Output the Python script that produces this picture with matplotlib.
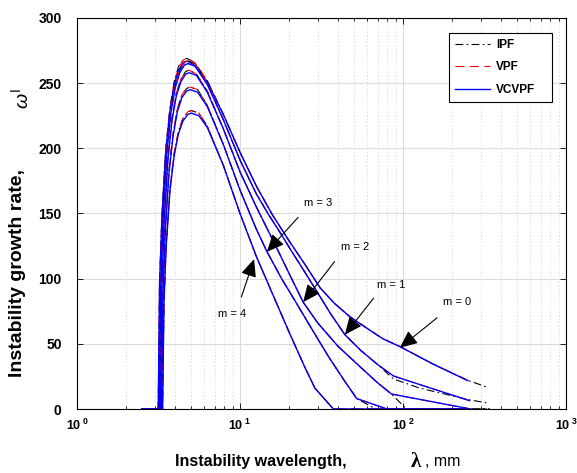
import matplotlib
matplotlib.use('Agg')
import matplotlib.pyplot as plt
import numpy as np
from matplotlib.ticker import NullFormatter

plt.rcParams['font.family'] = ['Liberation Sans', 'DejaVu Sans']
plt.rcParams['mathtext.fontset'] = 'custom'
plt.rcParams['mathtext.rm'] = 'Liberation Sans'
plt.rcParams['mathtext.bf'] = 'Liberation Sans:bold'
plt.rcParams['mathtext.it'] = 'Liberation Sans:italic'

nan = np.nan

# 波长 (mm) 和增长率, m = 0 ... 4, 三种模型 IPF / VPF / VCVPF
lam_m0 = [2.5, 3.15, 3.21, 3.32, 3.5, 3.71, 3.94, 4.2, 4.5, 4.72, 5.25, 6.3, 7.9, 10, 12.6, 15.8, 20, 25, 31, 38, 47, 60, 75, 96, 150, 250, 324]
ipf_m0 = [0, 0, 97, 149, 199, 230, 251, 263, 268, 269, 266, 252, 226, 197, 171, 149, 129, 111, 93, 81, 71, 62, 54, 47.8, 35, 22, 17]
vpf_m0 = [0, 0, 97, 149, 199, 230, 250, 262, 268, 269, 266, 252, 226, 197, 171, 149, 129, 111, 93, 81, 71, 62, 54, 47.8, 35, 21.7, nan]
vcvpf_m0 = [0, 0, 96, 147, 197, 228, 248, 260, 266, 267, 264, 251, 226, 197, 171, 149, 129, 111, 93, 81, 71, 62, 54, 47.8, 35, 21.7, nan]

lam_m1 = [2.5, 3.2, 3.265, 3.37, 3.556, 3.765, 4.0, 4.27, 4.57, 4.8, 5.3, 6.3, 7.9, 10, 12.6, 15, 17.5, 20.5, 25, 30, 36, 44, 55, 70, 87.5, 127, 256, 324]
ipf_m1 = [0, 0, 96, 148, 198, 229, 248, 260, 266, 267, 265, 250, 222, 191, 165, 149, 136, 122, 105, 89, 73, 57, 45, 34, 23, 16, 7, 4.8]
vpf_m1 = [0, 0, 96, 148, 198, 229, 248, 260, 266, 267, 265, 250, 222, 191, 165, 149, 136, 122, 105, 89, 73, 57, 45, 34, 25.3, 18.7, 6.4, nan]
vcvpf_m1 = [0, 0, 95, 146, 196, 227, 246, 258, 264, 265, 263, 249, 222, 191, 165, 149, 136, 122, 105, 89, 73, 57, 45, 34, 25.3, 18.7, 6.4, nan]

lam_m2 = [2.5, 3.25, 3.316, 3.421, 3.611, 3.824, 4.063, 4.333, 4.643, 4.875, 5.4, 6.3, 7.9, 10, 12.6, 15, 17.5, 20, 24.4, 30, 40, 55, 70, 85, 105, 260, 340]
ipf_m2 = [0, 0, 94, 144, 193, 223, 242, 253, 259, 260, 257, 244, 215, 182, 155, 136, 119, 104, 82, 66, 48, 32, 20, 11.5, 0, 0, 0]
vpf_m2 = [0, 0, 94, 144, 193, 223, 242, 253, 259, 260, 257, 244, 215, 182, 155, 136, 119, 104, 82, 66, 48, 32, 20, 11.5, 9.3, 0, nan]
vcvpf_m2 = [0, 0, 93, 142, 191, 221, 240, 251, 257, 258, 256, 243, 215, 182, 155, 136, 119, 104, 82, 66, 48, 32, 20, 11.5, 9.3, 0, nan]

lam_m3 = [2.5, 3.3, 3.367, 3.474, 3.667, 3.882, 4.125, 4.4, 4.714, 4.95, 5.5, 6.3, 7.9, 10, 12.6, 14.6, 18, 22, 28, 35, 43, 52, 68, 80, 260, 340]
ipf_m3 = [0, 0, 89, 137, 183, 211, 230, 241, 246, 247, 245, 233, 203, 168, 138, 121, 100, 82, 60, 40, 23, 8, 0, 0, 0, 0]
vpf_m3 = [0, 0, 89, 137, 183, 211, 230, 241, 246, 247, 245, 233, 203, 168, 138, 121, 100, 82, 60, 40, 23, 8, 3, 0, 0, nan]
vcvpf_m3 = [0, 0, 88, 135, 181, 209, 228, 239, 244, 245, 243, 232, 203, 168, 138, 121, 100, 82, 60, 40, 23, 8, 3, 0, 0, nan]

lam_m4 = [2.5, 3.35, 3.418, 3.526, 3.722, 3.941, 4.188, 4.467, 4.786, 5.025, 5.6, 6.3, 7.9, 10, 12.6, 16, 20, 25, 28.8, 37.4, 260, 340]
ipf_m4 = [0, 0, 83, 127, 170, 196, 213, 223, 228, 229, 227, 217, 187, 150, 117, 87, 59, 32, 16, 0, 0, 0]
vpf_m4 = [0, 0, 83, 127, 170, 196, 213, 223, 228, 229, 227, 217, 187, 150, 117, 87, 59, 32, 16, 0, 0, nan]
vcvpf_m4 = [0, 0, 82, 125, 168, 194, 211, 221, 226, 227, 225, 216, 187, 150, 117, 87, 59, 32, 16, 0, 0, nan]

# 箭头标注: (文字位置, 箭尾, 箭头)
mode_labels = ['m = 0', 'm = 1', 'm = 2', 'm = 3', 'm = 4']
label_pos = [(214, 82), (84, 95), (51, 124), (30, 158), (8.9, 73)]
arrow_tail = [(162, 70), (66, 85), (38, 113), (22.7, 147), (10.2, 86)]
arrow_tip = [(95.6, 47), (44, 57), (24.4, 82), (14.6, 120.5), (12.2, 115)]

modes = [(lam_m0, ipf_m0, vpf_m0, vcvpf_m0),
         (lam_m1, ipf_m1, vpf_m1, vcvpf_m1),
         (lam_m2, ipf_m2, vpf_m2, vcvpf_m2),
         (lam_m3, ipf_m3, vpf_m3, vcvpf_m3),
         (lam_m4, ipf_m4, vpf_m4, vcvpf_m4)]

fig = plt.figure(figsize=(5.77, 4.73), dpi=100)
ax = fig.add_axes([77/577, 64/473, 489/577, 391/473])

for i, (lam, wi, wv, wc) in enumerate(modes):
    ax.plot(lam, wi, color='k', lw=0.8, ls=(0, (7, 3, 1.5, 3)),
            label='IPF' if i == 0 else None)
    ax.plot(lam, wv, color='r', lw=0.8, ls=(0, (8, 5)),
            label='VPF' if i == 0 else None)
    ax.plot(lam, wc, color='b', lw=1.0,
            label='VCVPF' if i == 0 else None)

ax.set_xscale('log')
ax.set_xlim(1, 1000)
ax.set_ylim(0, 300)
ax.set_yticks([0, 50, 100, 150, 200, 250, 300])
ax.set_xticks([1, 10, 100, 1000])
ax.set_xticklabels([r'$\mathbf{10^{\ 0}}$', r'$\mathbf{10^{\ 1}}$',
                    r'$\mathbf{10^{\ 2}}$', r'$\mathbf{10^{\ 3}}$'])
ax.xaxis.set_minor_formatter(NullFormatter())

ax.set_axisbelow(True)
ax.grid(which='major', axis='both', color='#dcdcdc', lw=0.8, ls='-')
ax.grid(which='minor', axis='x', color='#c4c4c4', lw=0.6, ls=(0, (1, 3)))

ax.tick_params(which='both', direction='in', top=True, right=True, width=0.6)
ax.tick_params(which='major', length=4)
ax.tick_params(which='minor', length=2.5)
ax.tick_params(axis='y', labelsize=10, pad=11)
ax.tick_params(axis='x', labelsize=9, pad=6)
for t in ax.get_yticklabels():
    t.set_fontweight('bold')
for s in ax.spines.values():
    s.set_linewidth(0.8)

# 标注箭头
for txt, p, tail, tip in zip(mode_labels, label_pos, arrow_tail, arrow_tip):
    ax.annotate('', xy=tip, xytext=tail,
                arrowprops=dict(arrowstyle='-|>,head_length=0.9,head_width=0.4',
                                color='k', lw=0.8, mutation_scale=12,
                                shrinkA=0, shrinkB=0))
    ax.text(p[0], p[1], txt, fontsize=8, ha='center', va='center')

# 图例, 宽度按原图
leg = ax.legend(loc='upper left', bbox_to_anchor=(0.761, 0.783, 0.211, 0.179),
                mode='expand', borderaxespad=0,
                fancybox=False, edgecolor='k', framealpha=1,
                prop={'size': 8.5, 'weight': 'bold'},
                handlelength=3.0, handletextpad=0.45, labelspacing=0.9,
                borderpad=0.5)
leg.get_frame().set_linewidth(0.8)

# 坐标轴标题
fig.text(175/577, (473-466)/473, 'Instability wavelength,', fontsize=11.5,
         fontweight='bold', ha='left', va='baseline')
fig.text(411/577, (473-467)/473, 'λ', fontsize=15, fontweight='bold',
         family='Liberation Serif', ha='left', va='baseline')
fig.text(425/577, (473-466)/473, ', mm', fontsize=11.5, ha='left', va='baseline')
fig.text(18/577, (473-273)/473, 'Instability growth rate,', fontsize=14,
         fontweight='bold', rotation=90, ha='center', va='center')
fig.text(21/577, (473-99)/473, r'$\omega^{\rm I}$', fontsize=14,
         rotation=90, ha='center', va='center')

fig.savefig('out.png', dpi=100)
